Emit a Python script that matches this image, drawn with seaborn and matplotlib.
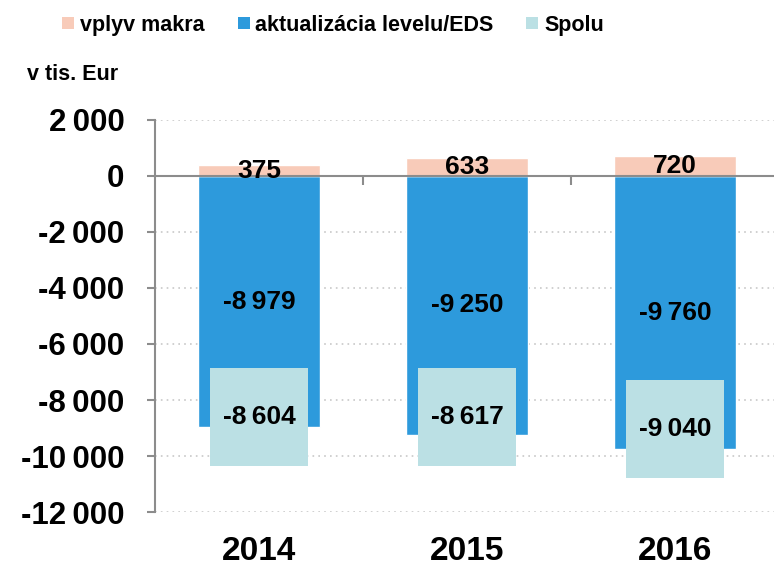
import numpy as np
import pandas as pd
import seaborn as sns
import matplotlib.pyplot as plt
from matplotlib.lines import Line2D

roky = ["2014", "2015", "2016"]
vplyv_makra = [375, 633, 720]
aktualizacia = [-8979, -9250, -9760]
spolu = [-8604, -8617, -9040]
y_ticks = [2000, 0, -2000, -4000, -6000, -8000, -10000, -12000]

c_makro = "#F8CBB9"
c_eds = "#2D9ADC"
c_spolu = "#BBE0E4"
siva = "#8C8C8C"

sns.set_theme(style="white")
plt.rcParams["font.family"] = ["Liberation Sans", "DejaVu Sans"]
plt.rcParams["font.weight"] = "bold"
plt.rcParams["text.color"] = "black"
plt.rcParams["xtick.color"] = "black"
plt.rcParams["ytick.color"] = "black"

df = pd.DataFrame({"rok": roky, "makro": vplyv_makra, "eds": aktualizacia, "spolu": spolu})


def fmt(v):
    return f"{v:,}".replace(",", "\u2009")


fig = plt.figure(figsize=(7.74, 5.66), dpi=100)
ax = fig.add_axes([0.2003, 0.0954, 0.7997, 0.6926])

sns.barplot(data=df, x="rok", y="eds", color=c_eds, width=0.59, saturation=1, ax=ax, zorder=2)
sns.barplot(data=df, x="rok", y="makro", color=c_makro, width=0.59, saturation=1, ax=ax, zorder=2)
sns.scatterplot(data=df, x="rok", y="spolu", marker="s", s=4980, color=c_spolu,
                linewidth=0, ax=ax, zorder=3, legend=False)

# popisky hodnot
for i, row in df.iterrows():
    ax.text(i, row["makro"] / 2, fmt(row["makro"]), ha="center", va="center",
            fontsize=19, fontweight="bold", color="black", zorder=5)
    ax.text(i, row["eds"] / 2, fmt(row["eds"]), ha="center", va="center",
            fontsize=19, fontweight="bold", color="black", zorder=5)
    ax.text(i, row["spolu"], fmt(row["spolu"]), ha="center", va="center",
            fontsize=19, fontweight="bold", color="black", zorder=5)

ax.set_ylim(-12000, 2000)
ax.set_xlim(-0.5, 2.476)
ax.set_yticks(y_ticks)
ax.set_yticklabels([fmt(v) for v in y_ticks], fontsize=22.5, fontweight="bold")
ax.yaxis.grid(True, linestyle=(0, (1, 2.5)), color="#C8C8C8", linewidth=1.2, zorder=0)
ax.axhline(0, color=siva, linewidth=1.5, zorder=4)
ax.vlines([0.5, 1.5], -330, 0, color=siva, linewidth=1.5, zorder=4)

for s in ["top", "right", "bottom"]:
    ax.spines[s].set_visible(False)
ax.spines["left"].set_color(siva)
ax.spines["left"].set_linewidth(1.5)
ax.tick_params(axis="y", which="major", direction="out", length=6, width=1.5,
               color=siva, labelcolor="black", left=True, pad=16)
ax.tick_params(axis="x", length=0, pad=17, labelsize=24, labelcolor="black")
for t in ax.get_xticklabels():
    t.set_fontweight("bold")
ax.set_xlabel("")
ax.set_ylabel("")

fig.text(0.035, 0.868, "v tis. Eur", fontsize=15.5, fontweight="bold", va="center")

handles = [Line2D([], [], marker="s", linestyle="none", markersize=9, color=c,
                  markeredgewidth=0) for c in [c_makro, c_eds, c_spolu]]
fig.legend(handles, ["vplyv makra", "aktualizácia levelu/EDS", "Spolu"],
           loc="center left", bbox_to_anchor=(0.08, 0.955), ncol=3, frameon=False,
           borderpad=0, borderaxespad=0,
           handlelength=0.6, handletextpad=0.25, columnspacing=1.5,
           prop={"weight": "bold", "size": 15.5})

fig.savefig("out.png", dpi=100)
